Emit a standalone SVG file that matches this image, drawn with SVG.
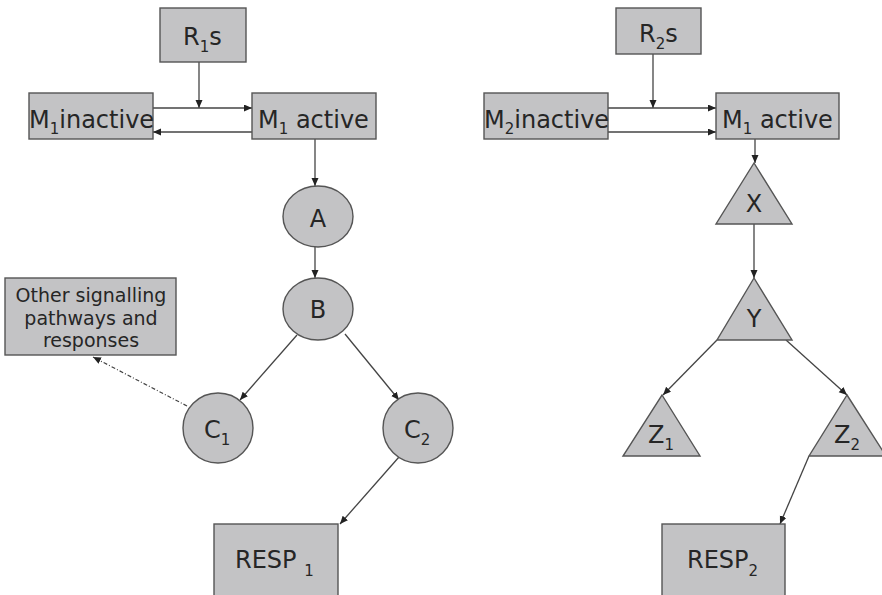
<svg xmlns="http://www.w3.org/2000/svg" width="882" height="595" viewBox="0 0 882 595">
<style>
.n{fill:#c3c3c5;stroke:#555;stroke-width:1.4}
.t{font-family:"DejaVu Sans",Verdana,sans-serif;font-size:24px;fill:#262626}
.s{font-size:15px}
.o{font-family:"DejaVu Sans",Verdana,sans-serif;font-size:19px;fill:#262626}
.c{stroke:#444;stroke-width:1.3;fill:none;marker-end:url(#ah)}
.d{stroke:#444;stroke-width:1.2;fill:none;stroke-dasharray:4 2 1 2;marker-end:url(#ah)}
</style>
<defs>
<marker id="ah" markerWidth="9" markerHeight="8" refX="8" refY="3.5" orient="auto" markerUnits="userSpaceOnUse">
<path d="M0,0 L8,3.5 L0,7 z" fill="#222"/>
</marker>
</defs>
<rect width="882" height="595" fill="#fff"/>
<g id="connectors">
<line class="c" x1="199" y1="62" x2="199" y2="108"/>
<line class="c" x1="153" y1="108" x2="252" y2="108"/>
<line class="c" x1="252" y1="132" x2="153" y2="132"/>
<line class="c" x1="315" y1="139" x2="315" y2="186"/>
<line class="c" x1="315" y1="247" x2="315" y2="278"/>
<line class="c" x1="297" y1="335" x2="240" y2="400"/>
<line class="c" x1="345" y1="334" x2="399" y2="400"/>
<line class="c" x1="399" y1="457" x2="340" y2="524"/>
<line class="d" x1="187" y1="406" x2="93" y2="357"/>
<line class="c" x1="653" y1="54" x2="653" y2="108"/>
<line class="c" x1="608" y1="108" x2="716" y2="108"/>
<line class="c" x1="608" y1="132" x2="716" y2="132"/>
<line class="c" x1="755" y1="139" x2="755" y2="163"/>
<line class="c" x1="754" y1="224" x2="754" y2="278"/>
<line class="c" x1="717" y1="340" x2="663" y2="395"/>
<line class="c" x1="786" y1="340" x2="847" y2="395"/>
<line class="c" x1="809" y1="456" x2="780" y2="524"/>
</g>
<g id="R1s"><rect class="n" x="160" y="8" width="86" height="54"/><text class="t" x="183" y="45">R<tspan class="s" dy="7">1</tspan><tspan dy="-7">s</tspan></text></g>
<g id="M1inactive"><rect class="n" x="29" y="93" width="124" height="46"/><text class="t" x="29" y="128">M<tspan class="s" dy="6">1</tspan><tspan dy="-6">inactive</tspan></text></g>
<g id="M1active"><rect class="n" x="252" y="93" width="124" height="46"/><text class="t" x="258" y="128">M<tspan class="s" dy="6">1</tspan><tspan dy="-6"> active</tspan></text></g>
<g id="A"><ellipse class="n" cx="318" cy="216.5" rx="35" ry="30.5"/><text class="t" x="318" y="227" text-anchor="middle">A</text></g>
<g id="B"><ellipse class="n" cx="318" cy="309" rx="35" ry="31"/><text class="t" x="318" y="318" text-anchor="middle">B</text></g>
<g id="Other"><rect class="n" x="5" y="278" width="171" height="77"/><text class="o" text-anchor="middle"><tspan x="91" y="302">Other signalling</tspan><tspan x="91" y="325">pathways and</tspan><tspan x="91" y="347">responses</tspan></text></g>
<g id="C1"><circle class="n" cx="218" cy="428" r="35"/><text class="t" x="204" y="438">C<tspan class="s" dy="7">1</tspan></text></g>
<g id="C2"><circle class="n" cx="418" cy="428" r="35"/><text class="t" x="404" y="438">C<tspan class="s" dy="7">2</tspan></text></g>
<g id="RESP1"><rect class="n" x="214" y="524" width="124" height="72"/><text class="t" x="235" y="568">RESP <tspan class="s" dy="8">1</tspan></text></g>
<g id="R2s"><rect class="n" x="616" y="8" width="85" height="46"/><text class="t" x="639" y="42">R<tspan class="s" dy="7">2</tspan><tspan dy="-7">s</tspan></text></g>
<g id="M2inactive"><rect class="n" x="484" y="93" width="124" height="46"/><text class="t" x="484" y="128">M<tspan class="s" dy="6">2</tspan><tspan dy="-6">inactive</tspan></text></g>
<g id="M1active2"><rect class="n" x="716" y="93" width="123" height="46"/><text class="t" x="722" y="128">M<tspan class="s" dy="6">1</tspan><tspan dy="-6"> active</tspan></text></g>
<g id="X"><polygon class="n" points="754,163 792,224 716,224"/><text class="t" x="754" y="212" text-anchor="middle">X</text></g>
<g id="Y"><polygon class="n" points="754,278 792,340 717,340"/><text class="t" x="754" y="327" text-anchor="middle">Y</text></g>
<g id="Z1"><polygon class="n" points="662,395 700,456 623,456"/><text class="t" x="648" y="443">Z<tspan class="s" dy="7">1</tspan></text></g>
<g id="Z2"><polygon class="n" points="847,395 886,456 809,456"/><text class="t" x="834" y="443">Z<tspan class="s" dy="7">2</tspan></text></g>
<g id="RESP2"><rect class="n" x="662" y="524" width="123" height="72"/><text class="t" x="687" y="568">RESP<tspan class="s" dy="8">2</tspan></text></g>
</svg>
